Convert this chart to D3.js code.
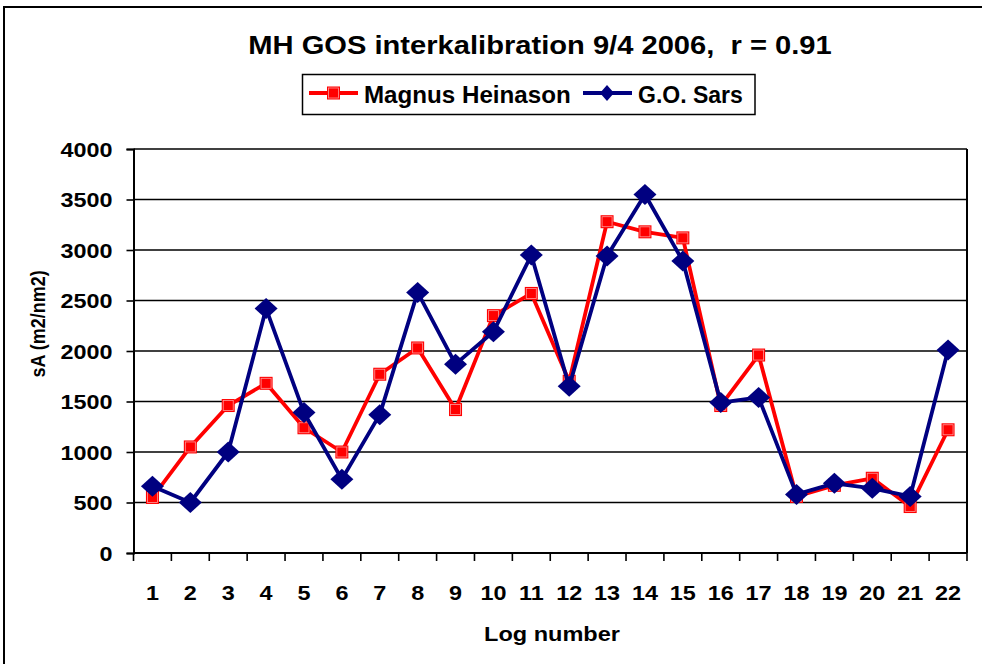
<!DOCTYPE html>
<html><head><meta charset="utf-8">
<script src="https://cdn.jsdelivr.net/npm/d3@7"></script>
<style>
html,body{margin:0;padding:0;background:#fff;overflow:hidden}
text{font-family:"Liberation Sans",Arial,sans-serif;font-weight:bold;fill:#000}
</style></head>
<body>
<svg id="c" width="982" height="664"></svg>
<script>
const categories = ["1","2","3","4","5","6","7","8","9","10","11","12","13","14","15","16","17","18","19","20","21","22"];
const magnusHeinason = [550,1050,1460,1680,1240,1000,1770,2030,1420,2350,2570,1700,3280,3180,3120,1460,1960,560,670,740,460,1220];
const goSars = [660,500,1000,2420,1390,730,1370,2580,1870,2190,2950,1650,2940,3550,2890,1490,1540,580,690,640,560,2010];
const yTicks = [0,500,1000,1500,2000,2500,3000,3500,4000];
const seriesNames = ["Magnus Heinason","G.O. Sars"];
const titleText = "MH GOS interkalibration 9/4 2006,  r = 0.91";
const xTitle = "Log number";
const yTitle = "sA (m2/nm2)";

const RED = "#ff0000", NAVY = "#000080";
const svg = d3.select("#c");
const L = 133.5, R = 967, T = 149, B = 553;

// outer border
svg.append("rect").attr("x",4).attr("y",7).attr("width",1000).attr("height",700)
  .attr("fill","none").attr("stroke","#000").attr("stroke-width",2);

const x = d3.scaleBand().domain(categories).range([L,R]).padding(0);
const y = d3.scaleLinear().domain([0,4000]).range([B,T]);

// gridlines
svg.append("g").selectAll("line").data(yTicks.filter(d=>d>0)).join("line")
  .attr("x1",L).attr("x2",R).attr("y1",d=>y(d)).attr("y2",d=>y(d))
  .attr("stroke","#000").attr("stroke-width",1.6);
// right border
svg.append("line").attr("x1",R).attr("x2",R).attr("y1",T).attr("y2",B).attr("stroke","#000").attr("stroke-width",2);

function stretch(sel,k){
  sel.each(function(){
    const len=this.getComputedTextLength();
    d3.select(this).attr("textLength",len*k).attr("lengthAdjust","spacingAndGlyphs");
  });
}

// y axis
const ya = svg.append("g").attr("transform",`translate(${L},0)`)
  .call(d3.axisLeft(y).tickValues(yTicks).tickSize(7).tickPadding(14).tickFormat(d3.format("d")));
ya.select(".domain").attr("stroke","#000").attr("stroke-width",2);
ya.selectAll(".tick line").attr("stroke","#000").attr("stroke-width",1.6);
ya.selectAll(".tick text").attr("font-size",20).attr("font-family","Liberation Sans, Arial, sans-serif")
  .attr("font-weight","bold").attr("dy","0.36em").attr("x",-21);
stretch(ya.selectAll(".tick text"),1.17);

// x axis
const xa = svg.append("g").attr("transform",`translate(0,${B})`)
  .call(d3.axisBottom(x).tickSize(0).tickPadding(30));
xa.select(".domain").remove();
svg.append("line").attr("x1",L).attr("x2",R).attr("y1",B).attr("y2",B).attr("stroke","#000").attr("stroke-width",2);
svg.append("g").selectAll("line").data(categories.concat(["end"])).join("line")
  .attr("x1",(d,i)=>L+i*x.bandwidth()).attr("x2",(d,i)=>L+i*x.bandwidth())
  .attr("y1",B).attr("y2",B+8).attr("stroke","#000").attr("stroke-width",1.6);
xa.selectAll(".tick text").attr("font-size",20).attr("font-family","Liberation Sans, Arial, sans-serif")
  .attr("font-weight","bold").attr("y",0).attr("dy",0).attr("transform","translate(0,47)");
stretch(xa.selectAll(".tick text"),1.17);

// axis titles
const xt = svg.append("text").attr("x",552).attr("y",641).attr("text-anchor","middle").attr("font-size",21).text(xTitle);
stretch(xt,1.12);
svg.append("text").attr("transform","translate(45,324) rotate(-90) scale(1,1.15)").attr("text-anchor","middle")
  .attr("font-size",18).text(yTitle);

// title
const tt = svg.append("text").attr("x",540).attr("y",54).attr("text-anchor","middle")
  .attr("font-size",26).style("white-space","pre").text(titleText);
stretch(tt,1.12);

// series
const cx = c => x(c)+x.bandwidth()/2;
const line = d3.line().x((d,i)=>cx(categories[i])).y(d=>y(d));
svg.append("path").datum(magnusHeinason).attr("d",line).attr("fill","none")
  .attr("stroke",RED).attr("stroke-width",3.8).attr("stroke-linejoin","round");
function square(g, px, py, s){
  g.append("rect").attr("x",px-s/2).attr("y",py-s/2).attr("width",s).attr("height",s).attr("fill",RED);
  g.append("rect").attr("x",px-s/2+1.5).attr("y",py-s/2+1.5).attr("width",s-3).attr("height",s-3)
    .attr("fill","none").attr("stroke","#ff9a9a").attr("stroke-width",0.8);
}
const mg = svg.append("g");
magnusHeinason.forEach((v,i)=>square(mg,cx(categories[i]),y(v),13));

svg.append("path").datum(goSars).attr("d",line).attr("fill","none")
  .attr("stroke",NAVY).attr("stroke-width",3.8).attr("stroke-linejoin","round");
function diamond(g,px,py,w,h){
  g.append("path").attr("d",`M${px},${py-h}L${px+w},${py}L${px},${py+h}L${px-w},${py}Z`).attr("fill",NAVY);
}
const dg = svg.append("g");
goSars.forEach((v,i)=>diamond(dg,cx(categories[i]),y(v),11.5,10.5));

// legend
svg.append("rect").attr("x",302.5).attr("y",74.5).attr("width",452.5).attr("height",40)
  .attr("fill","#fff").attr("stroke","#000").attr("stroke-width",1.5);
const lg = svg.append("g");
lg.append("line").attr("x1",309).attr("x2",358).attr("y1",93).attr("y2",93).attr("stroke",RED).attr("stroke-width",3.8);
square(lg,333.5,93,13);
const t1 = lg.append("text").attr("x",364).attr("y",103).attr("font-size",23).text(seriesNames[0]);
stretch(t1,1.05);
lg.append("line").attr("x1",583).attr("x2",632).attr("y1",93).attr("y2",93).attr("stroke",NAVY).attr("stroke-width",3.8);
diamond(lg,607,93,7,8);
const t2 = lg.append("text").attr("x",638).attr("y",103).attr("font-size",23).text(seriesNames[1]);
stretch(t2,1.0);
</script>
</body></html>
